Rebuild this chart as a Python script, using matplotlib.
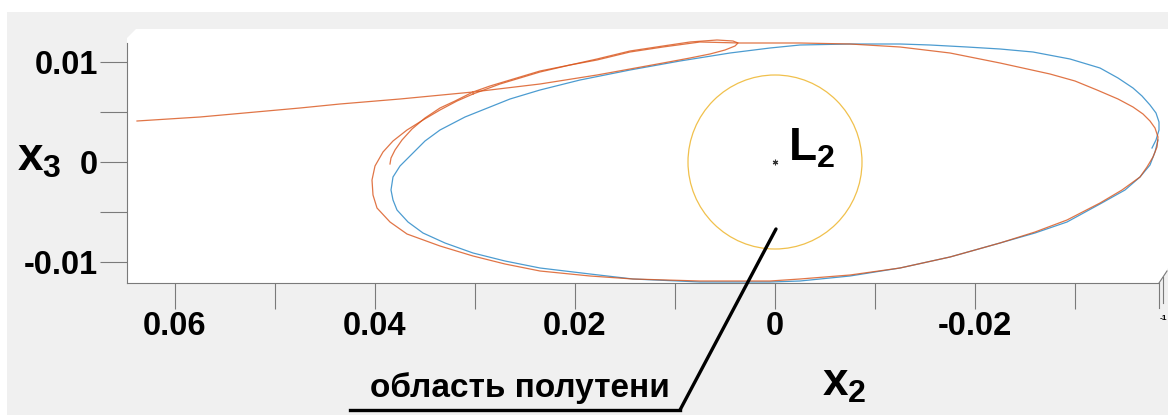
import matplotlib
matplotlib.use("Agg")
import matplotlib.pyplot as plt
from matplotlib.patches import Rectangle, Polygon, Circle
from matplotlib.lines import Line2D

plt.rcParams['font.family'] = ['Liberation Sans', 'DejaVu Sans']
plt.rcParams['font.weight'] = 'bold'

# periodic orbit around L2 (x2, x3)
orbit_x2 = [-0.0377, -0.0381, -0.0384, -0.0384, -0.0381, -0.0375, -0.0367, -0.0358, -0.0343,
            -0.0325, -0.0295, -0.0258, -0.0225, -0.0192, -0.0155, -0.0125, -0.0075, -0.0025,
            0.0005, 0.0045, 0.0095, 0.0145, 0.0195, 0.0235, 0.0265, 0.0285, 0.0310, 0.0335,
            0.0350, 0.0365, 0.0375, 0.0382, 0.0384, 0.0382, 0.0378, 0.0367, 0.0352, 0.0330,
            0.0302, 0.0270, 0.0235, 0.0185, 0.0142, 0.0075, 0.0005, -0.0025, -0.0075, -0.0125,
            -0.0175, -0.0225, -0.0260, -0.0292, -0.0325, -0.0350, -0.0365, -0.0375, -0.0380,
            -0.0383]
orbit_x3 = [0.0014, 0.0022, 0.0032, 0.0040, 0.0049, 0.0057, 0.0066, 0.0074, 0.0084,
            0.0094, 0.0103, 0.0110, 0.0113, 0.0115, 0.0117, 0.0118, 0.0118, 0.0117,
            0.0114, 0.0109, 0.0101, 0.0092, 0.0082, 0.0072, 0.0063, 0.0055, 0.0045, 0.0032,
            0.0021, 0.0006, -0.0004, -0.0015, -0.0028, -0.0038, -0.0048, -0.0060, -0.0071, -0.0081,
            -0.0091, -0.0099, -0.0106, -0.0112, -0.0117, -0.0120, -0.0120, -0.0119, -0.0114, -0.0106,
            -0.0095, -0.0081, -0.0071, -0.0060, -0.0042, -0.0028, -0.0015, -0.0003, 0.0010,
            0.0022]

# perturbed orbit
pert_x2 = [0.0302, 0.0275, 0.0235, 0.0205, 0.0178, 0.0145, 0.0112, 0.0075, 0.0035,
           -0.0025, -0.0075, -0.0125, -0.0175, -0.0225, -0.0275, -0.0300, -0.0322, -0.0343,
           -0.0358, -0.0368, -0.0375, -0.0380, -0.0383, -0.0382, -0.0378, -0.0372, -0.0365,
           -0.0347, -0.0325, -0.0292, -0.0260, -0.0225, -0.0175, -0.0125, -0.0075, -0.0025,
           0.0005, 0.0075, 0.0142, 0.0185, 0.0235, 0.0270, 0.0302, 0.0335, 0.0368, 0.0385,
           0.0398, 0.0402, 0.0403, 0.0400, 0.0392, 0.0382, 0.0368, 0.0352, 0.0335, 0.0318, 0.0302]
pert_x3 = [0.0068, 0.0078, 0.0090, 0.0097, 0.0102, 0.0110, 0.0115, 0.0120, 0.0119,
           0.0119, 0.0118, 0.0115, 0.0109, 0.0099, 0.0088, 0.0081, 0.0072, 0.0063,
           0.0055, 0.0048, 0.0041, 0.0034, 0.0025, 0.0015, 0.0005, -0.0005, -0.0015,
           -0.0028, -0.0041, -0.0058, -0.0070, -0.0081, -0.0095, -0.0106, -0.0113, -0.0117,
           -0.0119, -0.0119, -0.0117, -0.0114, -0.0109, -0.0102, -0.0094, -0.0084, -0.0072, -0.0060,
           -0.0046, -0.0033, -0.0018, -0.0004, 0.0010, 0.0021, 0.0032, 0.0042, 0.0052, 0.0061, 0.0068]

# departing trajectory
esc_x2 = [0.0638, 0.0575, 0.0475, 0.0435, 0.0375, 0.0302, 0.0235, 0.0178, 0.0112, 0.0085,
          0.0065, 0.0050, 0.0040, 0.0037, 0.0042, 0.0058, 0.0085, 0.0112, 0.0145, 0.0178,
          0.0205, 0.0235, 0.0265, 0.0285, 0.0302, 0.0320, 0.0335, 0.0350, 0.0363, 0.0373,
          0.0380, 0.0384, 0.0385]
esc_x3 = [0.0041, 0.0045, 0.0054, 0.0058, 0.0063, 0.0070, 0.0078, 0.0087, 0.0099, 0.0104,
          0.0108, 0.0112, 0.0116, 0.0119, 0.0121, 0.0122, 0.0120, 0.0116, 0.0111, 0.0103,
          0.0097, 0.0091, 0.0082, 0.0076, 0.0070, 0.0061, 0.0054, 0.0044, 0.0033, 0.0022,
          0.0012, 0.0004, -0.0002]

penumbra_r = 0.0087
l2_x2, l2_x3 = 0.0, 0.0

x_ticks = [0.06, 0.05, 0.04, 0.03, 0.02, 0.01, 0.0, -0.01, -0.02, -0.03]
x_labels = ['0.06', '', '0.04', '', '0.02', '', '0', '', '-0.02', '']
y_ticks = [-0.01, -0.005, 0.0, 0.005, 0.01]
y_labels = ['-0.01', '', '0', '', '0.01']

W, H = 1168, 415
fig = plt.figure(figsize=(W / 100, H / 100), dpi=100)
fig.patch.set_facecolor('white')

# grey window and white box pane
fig.add_artist(Rectangle((7 / W, 0), 1, 1 - 12 / H, transform=fig.transFigure,
                         facecolor='#f0f0f0', edgecolor='none', zorder=-3))
pane = [(127, 283), (127, 38), (136, 29), (1168, 29), (1168, 268), (1159, 283)]
fig.add_artist(Polygon([(px / W, 1 - py / H) for px, py in pane], closed=True,
                       transform=fig.transFigure, facecolor='white', edgecolor='none', zorder=-2))

ax = fig.add_axes([127 / W, 1 - 283 / H, (1159 - 127) / W, (283 - 29) / H])
ax.patch.set_visible(False)
ax.set_xlim(0.0648, -0.0384)
ax.set_ylim(-0.0121, 0.0133)

ax.plot(orbit_x2, orbit_x3, color='#0072BD', lw=0.9, alpha=0.7, clip_on=False)
ax.plot(pert_x2, pert_x3, color='#D95319', lw=0.9, alpha=0.8, clip_on=False)
ax.plot(esc_x2, esc_x3, color='#D95319', lw=0.9, alpha=0.8)
ax.add_patch(Circle((l2_x2, l2_x3), penumbra_r, fill=False, edgecolor='#EDB120', lw=0.9, alpha=0.8))
ax.plot([l2_x2], [l2_x3], marker=(6, 2, 0), ms=4, color='#333333', mew=0.8)
ax.text(-0.0013, 0.0002, r'L$\mathregular{_2}$', fontsize=33, fontweight='bold',
        ha='left', va='baseline')

for s in ['top', 'right']:
    ax.spines[s].set_visible(False)
for s in ['left', 'bottom']:
    ax.spines[s].set_color('#7a7a7a')
    ax.spines[s].set_linewidth(0.8)
ax.spines['left'].set_bounds(-0.0121, 0.0119)

ax.set_xticks(x_ticks)
ax.set_xticklabels(x_labels)
ax.set_yticks(y_ticks)
ax.set_yticklabels(y_labels)
ax.tick_params(axis='x', direction='out', length=19, width=0.8, color='#7a7a7a',
               labelsize=23.5, pad=1)
ax.tick_params(axis='y', direction='out', length=19.5, width=0.8, color='#7a7a7a',
               labelsize=23.5, pad=1.5)
for lab in ax.get_xticklabels() + ax.get_yticklabels():
    lab.set_fontweight('bold')

# axis names
fig.text(17 / W, 1 - 170 / H, r'x$\mathregular{_3}$', fontsize=33, fontweight='bold',
         ha='left', va='baseline')
fig.text(822 / W, 1 - 395 / H, r'x$\mathregular{_2}$', fontsize=33, fontweight='bold',
         ha='left', va='baseline')

# third axis stub at the right corner
fig.add_artist(Line2D([1159 / W, 1159 / W], [1 - 283 / H, 1 - 308 / H], color='#7a7a7a', lw=0.8))
fig.add_artist(Line2D([1159 / W, 1167 / W], [1 - 283 / H, 1 - 271 / H], color='#7a7a7a', lw=0.8))
fig.add_artist(Line2D([1163 / W, 1163 / W], [1 - 277 / H, 1 - 303 / H], color='#7a7a7a', lw=0.8))
fig.text(1160 / W, 1 - 318 / H, '-1', fontsize=6, ha='left', va='center')

# penumbra callout
ax.annotate('', xy=(-0.0001, -0.0067), xycoords='data',
            xytext=(680 / W, 1 - 410 / H), textcoords='figure fraction',
            arrowprops=dict(arrowstyle='-', lw=2.4, color='black', shrinkA=0, shrinkB=0),
            annotation_clip=False)
fig.add_artist(Line2D([350 / W, 680 / W], [1 - 410 / H, 1 - 410 / H], color='black', lw=2.4))
fig.text(520 / W, 1 - 397 / H, 'область полутени', fontsize=24, fontweight='bold',
         ha='center', va='baseline')

fig.savefig('out.png', dpi=100, facecolor=fig.get_facecolor())
